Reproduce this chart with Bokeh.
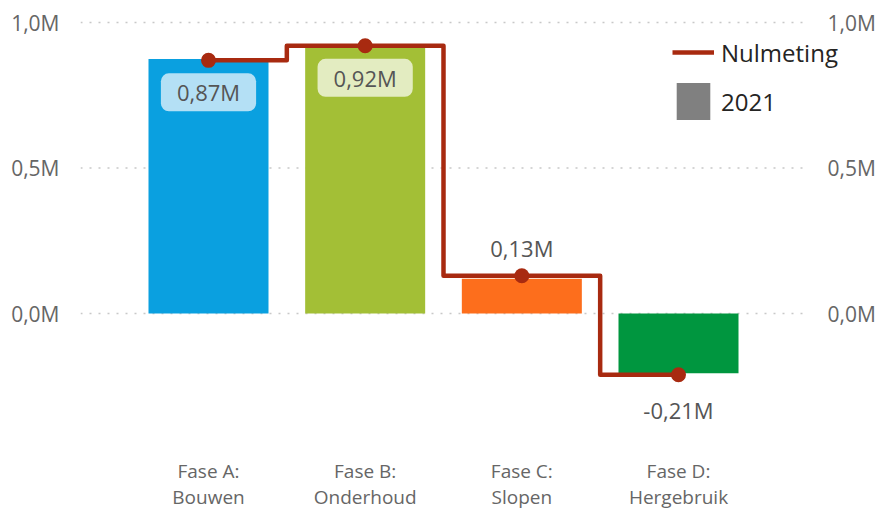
from bokeh.plotting import figure
from bokeh.models import (Range1d, FixedTicker, CustomJSTickFormatter, Label,
                          Legend, LegendItem, ColumnDataSource)
from bokeh.core.properties import value
from bokeh.embed import file_html
from bokeh.resources import INLINE

# ---- data ----
categories = ["Fase A:\nBouwen", "Fase B:\nOnderhoud", "Fase C:\nSlopen", "Fase D:\nHergebruik"]
values_2021 = [0.875, 0.915, 0.12, -0.205]      # bars (millions)
nulmeting = [0.87, 0.92, 0.13, -0.21]           # step line (millions)
bar_colors = ["#0AA0E0", "#A3BF36", "#FD6E1C", "#00963F"]
label_box_colors = ["#B4E0F5", "#E3ECC1", None, None]
y_ticks = [0.0, 0.5, 1.0]

# ---- styling / geometry ----
FONT = "Open Sans"
LINE_COLOR = "#A82A10"
TICK_COLOR = "#666666"
GRID_COLOR = "#C8C8C8"
W, H = 884, 512
FRAME_L, GRID_R, FRAME_R = 80, 806, 884        # screen px
SIDE_PAD = 0.317                                # category units
Y0, Y1 = -0.412, 1.0275

n = len(categories)
xs = list(range(n))
unit_px = (GRID_R - FRAME_L) / (n + 2 * SIDE_PAD)
x_start = -0.5 - SIDE_PAD
x_end = x_start + (FRAME_R - FRAME_L) / unit_px
grid_end = x_start + (GRID_R - FRAME_L) / unit_px

p = figure(width=W, height=H,
           x_range=Range1d(x_start, x_end), y_range=Range1d(Y0, Y1),
           output_backend="svg", toolbar_location=None,
           min_border_left=FRAME_L, min_border_right=0,
           min_border_top=14, min_border_bottom=72)
p.outline_line_color = None
p.background_fill_color = "white"
p.border_fill_color = "white"
p.xgrid.grid_line_color = None
p.ygrid.grid_line_color = None

# dotted horizontal gridlines (stop before right-hand tick labels)
p.segment(x0=[x_start] * len(y_ticks), x1=[grid_end] * len(y_ticks),
          y0=y_ticks, y1=y_ticks, line_color=GRID_COLOR, line_width=1.5,
          line_dash="2 7")

src = ColumnDataSource(dict(x=xs, top=values_2021, color=bar_colors))
p.vbar(x="x", top="top", bottom=0, width=0.766, fill_color="color",
       line_color=None, source=src)

step_r = p.step(x=xs, y=nulmeting, mode="center", line_width=4.5,
                line_color=LINE_COLOR, line_join="round")
p.scatter(x=xs, y=nulmeting, size=15, fill_color=LINE_COLOR, line_color=None)

# invisible zero-size bar used only for the grey "2021" legend swatch
legend_dummy = p.vbar(x=[0], top=[0], bottom=[0], width=0,
                      fill_color="#808080", line_color=None)

# ---- data labels ----
for i, v in enumerate(nulmeting):
    txt = f"{v:.2f}".replace(".", ",") + "M"
    bg = label_box_colors[i]
    if bg is not None:
        off = -32
    elif v >= 0:
        off = 28
    else:
        off = -35
    lab = Label(x=i, y=v, y_offset=off, text=txt, text_align="center",
                text_baseline="middle", text_font=FONT,
                text_font_size="22px", text_color="#555555")
    if bg is not None:
        lab.background_fill_color = bg
        lab.background_fill_alpha = 1.0
        lab.padding = dict(left=16, right=16, top=4, bottom=4)
        lab.border_radius = 8
    p.add_layout(lab)

# ---- left axis ----
ya = p.yaxis[0]
ya.ticker = FixedTicker(ticks=y_ticks)
ya.formatter = CustomJSTickFormatter(code="return tick.toFixed(1).replace('.', ',') + 'M'")
ya.axis_line_color = None
ya.major_tick_line_color = None
ya.minor_tick_line_color = None
ya.major_label_text_font = FONT
ya.major_label_text_font_size = "21px"
ya.major_label_text_color = TICK_COLOR
ya.major_label_standoff = 15

# ---- right-hand tick labels (drawn as text next to gridline ends) ----
right_src = ColumnDataSource(dict(
    x=[x_end] * len(y_ticks), y=y_ticks,
    t=[f"{t:.1f}".replace(".", ",") + "M" for t in y_ticks]))
p.text(x="x", y="y", text="t", source=right_src, x_offset=-57,
       text_align="left", text_baseline="middle", text_font=value(FONT),
       text_font_size="21px", text_color=TICK_COLOR)

# ---- x axis ----
xa = p.xaxis[0]
xa.ticker = FixedTicker(ticks=xs)
xa.major_label_overrides = {i: c for i, c in zip(xs, categories)}
xa.axis_line_color = None
xa.major_tick_line_color = None
xa.minor_tick_line_color = None
xa.major_label_text_font = FONT
xa.major_label_text_font_size = "19px"
xa.major_label_text_color = TICK_COLOR
xa.major_label_standoff = 18
xa.major_label_text_line_height = 1.0

# ---- legend ----
legend = Legend(items=[LegendItem(label="Nulmeting", renderers=[step_r]),
                       LegendItem(label="2021", renderers=[legend_dummy])],
                location=(592, 309), glyph_width=42, glyph_height=46,
                spacing=3, padding=0, margin=0, border_line_color=None,
                background_fill_alpha=0, label_text_font=FONT,
                label_text_font_size="24px", label_text_color="#252423",
                label_standoff=7)
p.add_layout(legend)

open("out.html", "w").write(file_html(p, INLINE))
